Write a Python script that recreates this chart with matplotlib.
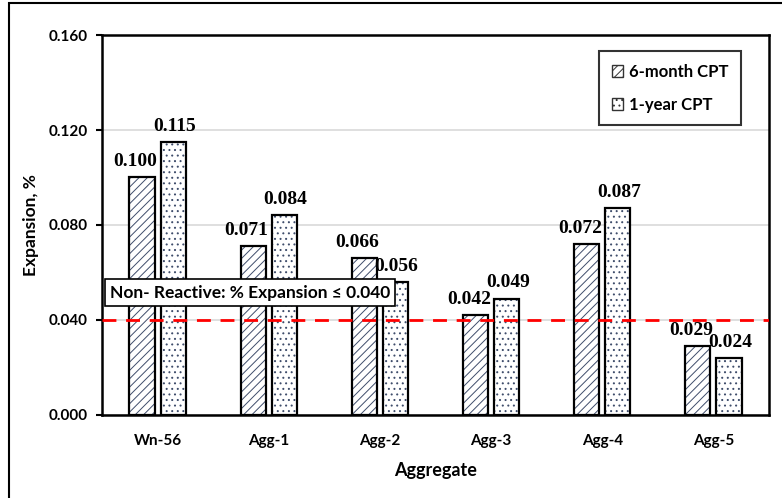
import numpy as np
import matplotlib.pyplot as plt
from matplotlib.patches import Rectangle, Patch

aggregates = ["Wn-56", "Agg-1", "Agg-2", "Agg-3", "Agg-4", "Agg-5"]
six_month = [0.100, 0.071, 0.066, 0.042, 0.072, 0.029]
one_year = [0.115, 0.084, 0.056, 0.049, 0.087, 0.024]
limit = 0.040
yticks = [0.000, 0.040, 0.080, 0.120, 0.160]

sans = "Lato"
serif = "Liberation Serif"
hatch_col = "#3f4d6b"
plt.rcParams["hatch.linewidth"] = 0.7

fig = plt.figure(figsize=(7.82, 4.98), dpi=100)
ax = fig.add_axes([0.1304, 0.1667, 0.853, 0.763])

x = np.arange(len(aggregates))
w = 0.225
off = 0.14
series = [(six_month, -off, "////", -0.06), (one_year, off, "...", 0.01)]
for vals, dx, hatch, lab_dx in series:
    # hatch drawn in its own color, then black outline on top
    ax.bar(x + dx, vals, w, color="white", edgecolor=hatch_col, hatch=hatch, linewidth=0, zorder=3)
    ax.bar(x + dx, vals, w, fill=False, edgecolor="black", linewidth=1.6, zorder=4)
    for xi, v in zip(x + dx, vals):
        ax.text(xi + lab_dx, v + 0.003, f"{v:.3f}", ha="center", va="bottom",
                family=serif, fontweight="bold", fontsize=14, zorder=5)

ax.axhline(limit, color="red", linestyle=(0, (5, 3.5)), linewidth=2, zorder=6)
ax.text(0.012, 0.0515, "Non- Reactive: % Expansion \u2264 0.040", ha="left", va="center",
        transform=ax.get_yaxis_transform(),
        family=sans, fontweight="bold", fontsize=12.5, zorder=7,
        bbox=dict(boxstyle="square,pad=0.3", facecolor="white", edgecolor="black", linewidth=1.2))

ax.set_xlim(-0.5, len(aggregates) - 0.5)
ax.set_ylim(0, 0.160)
ax.set_yticks(yticks)
ax.set_yticklabels([f"{t:.3f}" for t in yticks], family=sans, fontweight="bold", fontsize=11)
ax.set_xticks(x)
ax.set_xticklabels(aggregates, family=sans, fontweight="bold", fontsize=11)
ax.tick_params(axis="x", length=0, pad=14)
ax.tick_params(axis="y", length=4, width=1.5, pad=6)
ax.yaxis.grid(True, color="#d9d9d9", linewidth=1.2, zorder=0)
ax.set_axisbelow(True)
for s in ax.spines.values():
    s.set_linewidth(1.8)
    s.set_color("black")

ax.set_ylabel("Expansion, %", family=sans, fontweight="bold", fontsize=12.5)
ax.yaxis.set_label_coords(-0.094, 0.5)
ax.set_xlabel("Aggregate", family=sans, fontweight="bold", fontsize=13, labelpad=10)

handles = [Patch(facecolor="white", edgecolor="#333333", hatch="////", label="6-month CPT"),
           Patch(facecolor="white", edgecolor="#333333", hatch="...", label="1-year CPT")]
leg = ax.legend(handles=handles, loc="upper right", bbox_to_anchor=(0.958, 0.957),
                prop=dict(family=sans, weight="bold", size=12), frameon=True, fancybox=False,
                handlelength=0.7, handleheight=0.7, handletextpad=0.35, labelspacing=1.0,
                borderpad=0.75, borderaxespad=0)
leg.get_frame().set_edgecolor("black")
leg.get_frame().set_linewidth(1.5)
leg.set_zorder(8)

# outer frame (only left and top edges visible in the crop)
fig.patches.append(Rectangle((0.011, -0.1), 1.2, 1.094, transform=fig.transFigure,
                             fill=False, edgecolor="black", linewidth=1.5))

fig.savefig("out.png", dpi=100)
